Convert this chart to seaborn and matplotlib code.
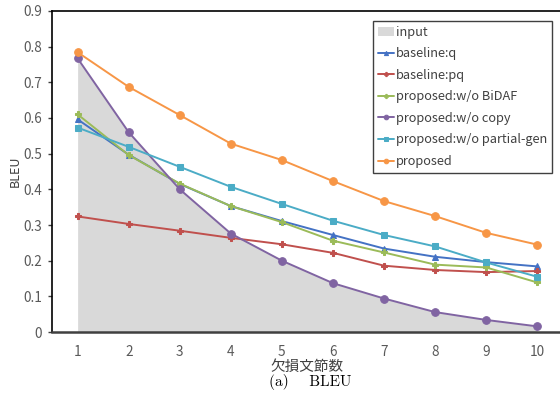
import numpy as np
import pandas as pd
import seaborn as sns
import matplotlib
matplotlib.use("Agg")
import matplotlib.pyplot as plt
from matplotlib.patches import Patch
from matplotlib.ticker import FixedLocator

# Number of missing phrases (x axis)
missing = [1, 2, 3, 4, 5, 6, 7, 8, 9, 10]

# BLEU scores per system
input_bleu = [0.767, 0.560, 0.400, 0.276, 0.200, 0.137, 0.094, 0.056, 0.034, 0.016]
baseline_q = [0.596, 0.497, 0.415, 0.353, 0.311, 0.272, 0.234, 0.211, 0.196, 0.184]
baseline_pq = [0.324, 0.303, 0.284, 0.264, 0.246, 0.222, 0.186, 0.174, 0.168, 0.171]
wo_bidaf = [0.610, 0.496, 0.416, 0.353, 0.308, 0.256, 0.223, 0.189, 0.181, 0.139]
wo_copy = [0.767, 0.560, 0.400, 0.276, 0.200, 0.137, 0.094, 0.056, 0.034, 0.016]
wo_partial = [0.573, 0.519, 0.463, 0.407, 0.359, 0.312, 0.272, 0.240, 0.195, 0.155]
proposed = [0.784, 0.687, 0.608, 0.528, 0.482, 0.423, 0.367, 0.325, 0.278, 0.245]

y_ticks = [0, 0.1, 0.2, 0.3, 0.4, 0.5, 0.6, 0.7, 0.8, 0.9]
y_tick_labels = ["0", "0.1", "0.2", "0.3", "0.4", "0.5", "0.6", "0.7", "0.8", "0.9"]

series = [
    ("baseline:q", baseline_q, "#4472C4", "^", 5),
    ("baseline:pq", baseline_pq, "#C0504D", "P", 5),
    ("proposed:w/o BiDAF", wo_bidaf, "#9BBB59", "P", 5),
    ("proposed:w/o copy", wo_copy, "#8064A2", "o", 5.5),
    ("proposed:w/o partial-gen", wo_partial, "#4BACC6", "s", 5),
    ("proposed", proposed, "#F79646", "o", 5.5),
]

rows = []
for name, vals, *_ in series:
    for x, v in zip(missing, vals):
        rows.append({"missing": x, "BLEU": v, "system": name})
df = pd.DataFrame(rows)

sns.set_theme(style="white")
plt.rcParams["font.family"] = ["Noto Sans CJK JP", "DejaVu Sans"]

fig = plt.figure(figsize=(5.6, 4.03), dpi=100)
ax = fig.add_axes([0.093, 0.176, 0.912, 0.797])

ax.fill_between(missing, input_bleu, 0, color="#D9D9D9", linewidth=0, zorder=1)

for name, vals, color, marker, ms in series:
    sns.lineplot(data=df[df["system"] == name], x="missing", y="BLEU",
                 color=color, marker=marker, markersize=ms,
                 markeredgecolor=color, linewidth=1.4, ax=ax, zorder=3,
                 label=name)

ax.set_xlim(0.5, 10.5)
ax.set_ylim(0, 0.9)
ax.set_xticks(missing)
ax.set_xticklabels([str(m) for m in missing])
ax.set_yticks(y_ticks)
ax.set_yticklabels(y_tick_labels)
ax.xaxis.set_minor_locator(FixedLocator(np.arange(1.5, 10.5, 1.0)))
ax.tick_params(axis="x", which="major", length=0, pad=9, labelsize=9.8, labelcolor="#595959")
ax.tick_params(axis="x", which="minor", direction="in", length=4, width=1, color="#404040", bottom=True)
ax.tick_params(axis="y", which="major", direction="out", length=3, width=1, color="#404040",
               left=True, pad=4, labelsize=9.8, labelcolor="#595959")

for side in ["left", "top"]:
    ax.spines[side].set_color("black")
    ax.spines[side].set_linewidth(1.2)
ax.spines["bottom"].set_color("#404040")
ax.spines["bottom"].set_linewidth(1.8)
ax.spines["right"].set_visible(False)

ax.set_xlabel("欠損文節数", fontsize=10.5, color="#404040", labelpad=1)
ax.set_ylabel("BLEU", fontsize=9, color="#404040", labelpad=1)

handles, labels = ax.get_legend_handles_labels()
handles = [Patch(facecolor="#D9D9D9", edgecolor="none")] + handles
labels = ["input"] + labels
leg = ax.legend(handles, labels, loc="upper right", bbox_to_anchor=(0.979, 0.970),
                borderaxespad=0, fontsize=9.2, frameon=True, fancybox=False, framealpha=1,
                edgecolor="#404040", handlelength=1.3, handletextpad=0.1,
                labelspacing=0.67, borderpad=0.4, markerscale=0.6,
                labelcolor="#404040")
leg.get_frame().set_linewidth(1.0)

fig.text(0.554, 0.043, "(a)    BLEU", fontsize=11, family="cmr10", ha="center", color="black")

fig.savefig("out.png", dpi=100)
